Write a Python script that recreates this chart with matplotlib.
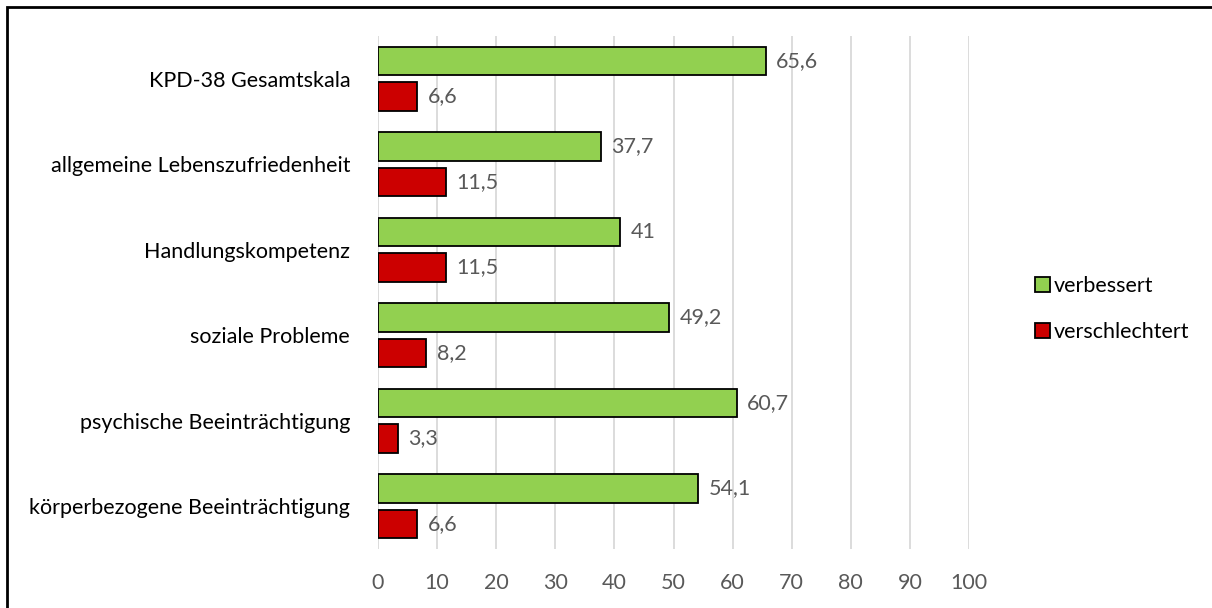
import matplotlib
matplotlib.use("Agg")
import matplotlib.pyplot as plt
from matplotlib.patches import Rectangle, Patch
import numpy as np

categories = ["KPD-38 Gesamtskala", "allgemeine Lebenszufriedenheit", "Handlungskompetenz",
              "soziale Probleme", "psychische Beeinträchtigung", "körperbezogene Beeinträchtigung"]
verbessert = [65.6, 37.7, 41, 49.2, 60.7, 54.1]
verschlechtert = [6.6, 11.5, 11.5, 8.2, 3.3, 6.6]
xticks = [0, 10, 20, 30, 40, 50, 60, 70, 80, 90, 100]
series_names = ["verbessert", "verschlechtert"]

plt.rcParams['font.family'] = ['Lato', 'DejaVu Sans']

W, H = 1212, 608
fig = plt.figure(figsize=(W/100, H/100), dpi=100)
ax = fig.add_axes([378/W, 1-549/H, (969-378)/W, (549-36)/H])

green = "#92D050"
red = "#CC0000"
n = len(categories)
y = np.arange(n)
h = 0.33
off = 0.208
ax.barh(y - off, verbessert, height=h, color=green, edgecolor="black", linewidth=1.3, zorder=3)
ax.barh(y + off, verschlechtert, height=h, color=red, edgecolor="black", linewidth=1.3, zorder=3)

def fmt(v):
    return ("%g" % v).replace(".", ",")

fs = 15.5
for i in range(n):
    ax.text(verbessert[i] + 1.8, y[i] - off, fmt(verbessert[i]), va="center", ha="left",
            fontsize=fs, color="#595959")
    ax.text(verschlechtert[i] + 1.8, y[i] + off, fmt(verschlechtert[i]), va="center", ha="left",
            fontsize=fs, color="#595959")

ax.set_ylim(n - 0.5, -0.5)
ax.set_xlim(0, 100)
ax.set_yticks(y)
ax.set_yticklabels(categories, fontsize=fs, color="black")
ax.set_xticks(xticks)
ax.set_xticklabels([str(t) for t in xticks], fontsize=fs, color="#595959")
ax.tick_params(axis="both", length=0)
ax.tick_params(axis="y", pad=20)
ax.tick_params(axis="x", pad=17)
for s in ax.spines.values():
    s.set_visible(False)
ax.xaxis.grid(True, color="#D9D9D9", linewidth=1.3, zorder=0)
ax.set_axisbelow(True)

handles = [Patch(facecolor=green, edgecolor="black", linewidth=1.3),
           Patch(facecolor=red, edgecolor="black", linewidth=1.3)]
fig.legend(handles, series_names, loc="center left", bbox_to_anchor=(1026/W, 1-309/H),
           frameon=False, fontsize=fs, handlelength=0.7, handleheight=0.7,
           handletextpad=0.2, labelspacing=1.2, borderaxespad=0)

fig.patches.append(Rectangle((7/W, -0.1), 1.2, 1 - 7/H + 0.1, transform=fig.transFigure,
                             fill=False, edgecolor="black", linewidth=2))

fig.savefig("out.png", dpi=100, facecolor="white")
